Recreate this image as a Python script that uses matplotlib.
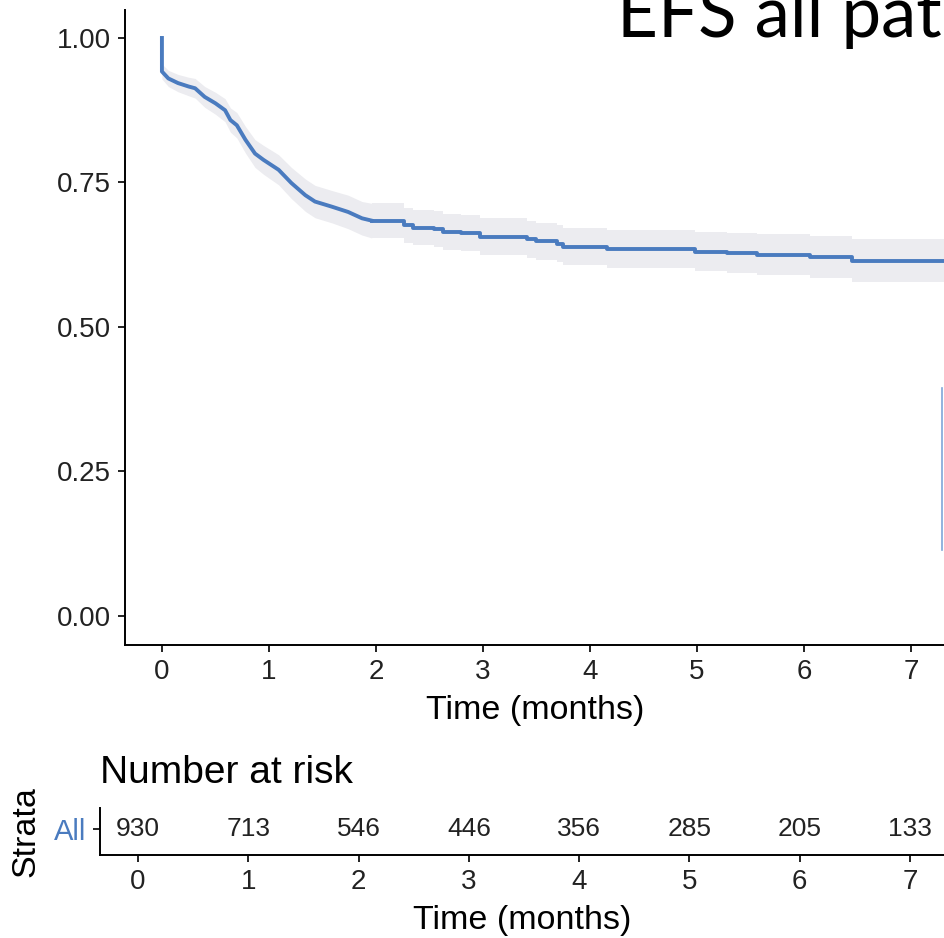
import matplotlib
matplotlib.use("Agg")
import matplotlib.pyplot as plt
from matplotlib.lines import Line2D

plt.rcParams['font.family'] = ['Liberation Sans', 'DejaVu Sans']

# Curva de sobrevida
tempo = [0, 0, 0.06, 0.15, 0.25, 0.31, 0.40, 0.50, 0.59, 0.64, 0.70, 0.78, 0.87,
         0.95, 1.09, 1.21, 1.34, 1.43, 1.59, 1.74, 1.87, 1.96, 2.26, 2.35, 2.54,
         2.63, 2.79, 2.97, 3.41, 3.50, 3.69, 3.75, 4.16, 4.98, 5.28, 5.56, 6.06,
         6.45, 7.40]
sobrevida = [1.000, 0.942, 0.930, 0.922, 0.916, 0.913, 0.898, 0.887, 0.875, 0.858,
             0.849, 0.824, 0.800, 0.789, 0.772, 0.749, 0.728, 0.717, 0.708, 0.699,
             0.688, 0.684, 0.676, 0.672, 0.670, 0.665, 0.662, 0.656, 0.652, 0.648,
             0.644, 0.639, 0.635, 0.630, 0.628, 0.625, 0.621, 0.615, 0.615]
ic_inf = [1.000, 0.929, 0.916, 0.907, 0.900, 0.896, 0.880, 0.868, 0.855, 0.837,
          0.827, 0.801, 0.776, 0.764, 0.746, 0.722, 0.700, 0.689, 0.680, 0.670,
          0.659, 0.654, 0.646, 0.642, 0.639, 0.634, 0.631, 0.625, 0.620, 0.616,
          0.612, 0.607, 0.602, 0.596, 0.593, 0.590, 0.585, 0.578, 0.578]
ic_sup = [1.000, 0.955, 0.944, 0.937, 0.932, 0.930, 0.916, 0.906, 0.895, 0.879,
          0.871, 0.847, 0.824, 0.814, 0.798, 0.776, 0.756, 0.745, 0.736, 0.728,
          0.717, 0.714, 0.706, 0.702, 0.701, 0.696, 0.693, 0.688, 0.684, 0.680,
          0.677, 0.672, 0.668, 0.665, 0.663, 0.660, 0.657, 0.652, 0.652]
corte = 22  # trecho inicial com muitos eventos desenhado como linha continua

# Tabela de risco
tempos_risco = [0, 1, 2, 3, 4, 5, 6, 7]
n_risco = [930, 713, 546, 446, 356, 285, 205, 133]

azul = '#4a7bbf'
banda = '#ececf0'
xlim = (-0.345, 7.317)

fig = plt.figure(figsize=(9.45, 9.38), dpi=100)

# Painel principal
ax = fig.add_axes([125 / 945, 293 / 938, 820 / 945, 635 / 938])
ax.fill_between(tempo[1:corte], ic_inf[1:corte], ic_sup[1:corte], color=banda, lw=0)
ax.fill_between(tempo[corte - 1:], ic_inf[corte - 1:], ic_sup[corte - 1:],
                step='post', color=banda, lw=0)
ax.plot(tempo[:corte], sobrevida[:corte], color=azul, lw=2.8, solid_joinstyle='round')
ax.step(tempo[corte - 1:], sobrevida[corte - 1:], where='post', color=azul, lw=2.8)
ax.set_xlim(*xlim)
ax.set_ylim(-0.0502, 1.0484)
ax.set_xticks(range(0, 8))
ax.set_yticks([0, 0.25, 0.5, 0.75, 1.0])
ax.set_yticklabels(['0.00', '0.25', '0.50', '0.75', '1.00'])
ax.set_xlabel('Time (months)', fontsize=24.5, labelpad=7)
for s in ['top', 'right']:
    ax.spines[s].set_visible(False)
for s in ['left', 'bottom']:
    ax.spines[s].set_linewidth(1.4)
ax.tick_params(labelsize=20, length=5, width=1.4, pad=5, colors='#222222')

# Tabela "Number at risk"
axr = fig.add_axes([100 / 945, 83 / 938, 845 / 945, 47 / 938])
for t, n in zip(tempos_risco, n_risco):
    axr.text(t, 0, str(n), ha='center', va='center', fontsize=19, color='#222222')
axr.set_xlim(*xlim)
axr.set_ylim(-0.55, 0.45)
axr.set_xticks(tempos_risco)
axr.set_yticks([0])
axr.set_yticklabels(['All'])
axr.set_xlabel('Time (months)', fontsize=24.5, labelpad=7)
axr.set_ylabel('Strata', fontsize=24.5, labelpad=9)
axr.set_title('Number at risk', fontsize=28, loc='left', pad=18, x=0.0)
for s in ['top', 'right']:
    axr.spines[s].set_visible(False)
for s in ['left', 'bottom']:
    axr.spines[s].set_linewidth(1.4)
axr.tick_params(labelsize=20, length=5, width=1.4, pad=5, colors='#222222')
axr.tick_params(axis='y', labelcolor=azul, labelsize=21)

# Titulo cortado do slide
fig.text(617 / 945, 1 - 37 / 938, 'EFS all patients', fontsize=51,
         family=['Lato', 'DejaVu Sans'], va='baseline', ha='left', color='black')

# Linha azul na borda direita
fig.add_artist(Line2D([942 / 945, 942 / 945], [1 - 388 / 938, 1 - 550 / 938],
                      color='#7fa6d8', lw=1.2, transform=fig.transFigure))

plt.savefig('out.png', dpi=100)
